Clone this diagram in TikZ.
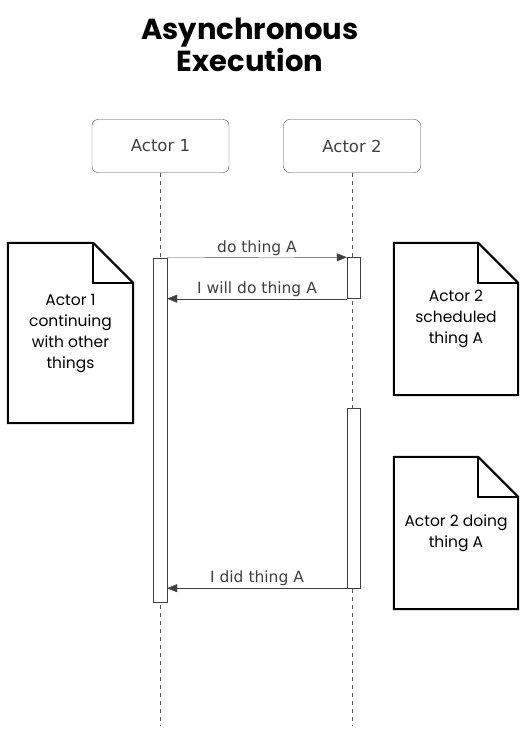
\documentclass[tikz,border=0pt]{standalone}
\usepackage{fontspec}
\setmainfont{DejaVu Sans}
\newfontfamily\notefont{Poppins}
\usetikzlibrary{positioning,arrows.meta}

\begin{document}
\begin{tikzpicture}[x=1pt,y=-1pt,
  actor/.style={draw=black!70,rounded corners=6pt,minimum width=137pt,minimum height=53pt,
    font=\fontsize{16.5}{18}\selectfont,text=black!75},
  lifeline/.style={black!65,dash pattern=on 4pt off 4pt},
  bar/.style={draw=black!75,fill=white,minimum width=13pt,inner sep=0pt},
  msg/.style={draw=black!75,-{Triangle[length=10pt,width=8pt]}},
  msglabel/.style={font=\fontsize{15.5}{17}\selectfont,text=black!75,inner sep=2pt},
  notebox/.style={minimum width=124pt,inner sep=0pt},
  note/.style={line width=2pt,line join=miter},
  notetext/.style={font=\notefont\fontsize{15.5}{21}\selectfont,align=center}]
\useasboundingbox (0,0) rectangle (532,734);

% title
\node[font=\notefont\bfseries\fontsize{29}{30}\selectfont,align=center] (title) at (250,45)
  {Asynchronous\\Execution};

% actors and lifelines
\node[actor] (a1) at (160.5,146) {Actor 1};
\node[actor] (a2) at (352,146) {Actor 2};
\coordinate (end) at (0,725);
\draw[lifeline] (a1.south) -- (a1.south |- end);
\draw[lifeline] (a2.south) -- (a2.south |- end);

% activation bars
\node[bar,minimum width=14pt,minimum height=344pt] (b1) at (160,430) {};
\node[bar,minimum height=41pt] (b2) at (353.5,278) {};
\node[bar,minimum height=180pt] (b3) at (353.5,498) {};

% messages
\draw[msg] (b1.north east) -- (b2.north west) node[midway,above,msglabel] {do thing A};
\draw[msg] (b2.south west) -- (b1.east |- b2.south) node[midway,above,msglabel] {I will do thing A};
\draw[msg] (b3.south west) -- (b1.east |- b3.south) node[midway,above,msglabel] {I did thing A};

% notes
\node[notebox,minimum width=125pt,minimum height=180pt,notetext] (n1) at (70.5,333)
  {Actor 1\\continuing\\with other\\things};
\node[notebox,minimum height=152pt,notetext] (n2) at (456,319)
  {Actor 2\\scheduled\\thing A};
\node[notebox,minimum height=152pt,notetext] (n3) at (456,533)
  {Actor 2 doing\\thing A};
\foreach \n in {n1,n2,n3} {
  \draw[note] (\n.south west) -- (\n.north west) -- ([xshift=-40pt]\n.north east)
    -- ([yshift=-40pt]\n.north east) -- (\n.south east) -- cycle;
  \draw[note] ([xshift=-40pt]\n.north east) |- ([yshift=-40pt]\n.north east);
}
\end{tikzpicture}
\end{document}
